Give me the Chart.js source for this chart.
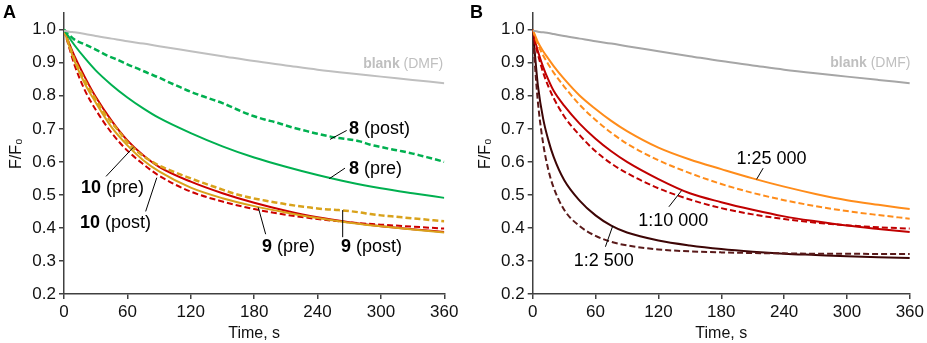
<!DOCTYPE html>
<html>
<head>
<meta charset="utf-8">
<title>F/F0 vs time</title>
<script src="https://cdn.jsdelivr.net/npm/chart.js@4.4.0/dist/chart.umd.min.js"></script>
<style>
  body { margin: 0; background: #fff; }
  #wrap { position: relative; width: 927px; height: 343px; }
  canvas { position: absolute; top: 0; }
</style>
</head>
<body>
<div id="wrap">
  <canvas id="chartA" width="463" height="343" style="left:0"></canvas>
  <canvas id="chartB" width="464" height="343" style="left:463px"></canvas>
</div>
<script>
// ---- data ----

// tick labels
const xTicks = [0, 60, 120, 180, 240, 300, 360];
const yTicks = [0.2, 0.3, 0.4, 0.5, 0.6, 0.7, 0.8, 0.9, 1.0];

// panel A, time in s
const timeA = [0, 5, 10, 20, 30, 45, 60, 75, 90, 120, 150, 180, 210, 240, 270, 300, 330, 360];
const blankA = [0.997, 0.994, 0.992, 0.987, 0.981, 0.973, 0.965, 0.958, 0.950, 0.935, 0.920, 0.905, 0.892, 0.879, 0.868, 0.858, 0.848, 0.838];
const pre8 = [1.0, 0.976, 0.953, 0.913, 0.877, 0.833, 0.795, 0.762, 0.733, 0.687, 0.647, 0.613, 0.585, 0.560, 0.538, 0.520, 0.505, 0.491];
const pre9 = [1.0, 0.950, 0.905, 0.835, 0.780, 0.705, 0.650, 0.605, 0.571, 0.522, 0.490, 0.466, 0.447, 0.430, 0.416, 0.405, 0.395, 0.386];
const pre10 = [1.0, 0.958, 0.920, 0.855, 0.797, 0.725, 0.665, 0.620, 0.585, 0.540, 0.505, 0.476, 0.452, 0.432, 0.417, 0.405, 0.396, 0.388];
const post10 = [1.0, 0.945, 0.893, 0.815, 0.758, 0.688, 0.634, 0.593, 0.558, 0.510, 0.480, 0.457, 0.440, 0.427, 0.417, 0.410, 0.404, 0.398];

// the noisy "post" runs of 8 and 9, one reading every 10 s
const timePost = [0, 10, 20, 30, 40, 50, 60, 70, 80, 90, 100, 110, 120, 130, 140, 150, 160, 170, 180,
  190, 200, 210, 220, 230, 240, 250, 260, 270, 280, 290, 300, 310, 320, 330, 340, 350, 360];
const post8 = [1.0, 0.970, 0.955, 0.940, 0.923, 0.910, 0.895, 0.882, 0.868, 0.855, 0.840, 0.826, 0.812, 0.800, 0.789,
  0.778, 0.764, 0.750, 0.738, 0.728, 0.720, 0.710, 0.701, 0.693, 0.685, 0.678, 0.672, 0.668, 0.662, 0.652, 0.645,
  0.638, 0.632, 0.625, 0.617, 0.609, 0.600];
const post9 = [1.0, 0.910, 0.845, 0.790, 0.740, 0.700, 0.660, 0.630, 0.607, 0.589, 0.575, 0.562, 0.550, 0.538, 0.527,
  0.516, 0.505, 0.496, 0.489, 0.483, 0.477, 0.472, 0.467, 0.463, 0.459, 0.456, 0.454, 0.451, 0.447, 0.442, 0.438,
  0.435, 0.432, 0.429, 0.426, 0.423, 0.420];

// panel B, time in s
const timeB = [0, 2, 5, 10, 15, 20, 30, 45, 60, 75, 90, 120, 150, 180, 210, 240, 270, 300, 330, 360];
const blankB = [0.997, 0.996, 0.994, 0.992, 0.990, 0.987, 0.981, 0.973, 0.965, 0.958, 0.950, 0.935, 0.920, 0.905, 0.892, 0.879, 0.868, 0.858, 0.848, 0.838];
const pre25k = [1.0, 0.985, 0.962, 0.935, 0.912, 0.890, 0.851, 0.800, 0.760, 0.724, 0.693, 0.643, 0.607, 0.578, 0.550, 0.525, 0.503, 0.484, 0.470, 0.457];
const post25k = [1.0, 0.980, 0.955, 0.922, 0.895, 0.870, 0.828, 0.772, 0.727, 0.688, 0.655, 0.605, 0.566, 0.533, 0.506, 0.484, 0.466, 0.451, 0.439, 0.428];
const pre10k = [1.0, 0.970, 0.935, 0.887, 0.848, 0.815, 0.770, 0.715, 0.670, 0.632, 0.600, 0.548, 0.505, 0.478, 0.455, 0.435, 0.420, 0.407, 0.397, 0.388];
const post10k = [1.0, 0.965, 0.925, 0.870, 0.828, 0.793, 0.738, 0.680, 0.632, 0.595, 0.566, 0.520, 0.486, 0.460, 0.441, 0.427, 0.416, 0.408, 0.402, 0.398];
const pre2500 = [1.0, 0.930, 0.830, 0.730, 0.665, 0.615, 0.545, 0.482, 0.438, 0.407, 0.386, 0.362, 0.347, 0.336, 0.328, 0.322, 0.318, 0.314, 0.311, 0.309];
const post2500 = [1.0, 0.900, 0.780, 0.655, 0.575, 0.522, 0.455, 0.405, 0.376, 0.358, 0.347, 0.335, 0.329, 0.326, 0.324, 0.323, 0.322, 0.322, 0.321, 0.321];

const FONT = '"Liberation Sans", Arial, sans-serif';

function pts(times, vals) {
  return times.map((t, i) => ({ x: t, y: vals[i] }));
}

function line(times, vals, color, dashed, width) {
  return {
    data: pts(times, vals),
    borderColor: color,
    borderWidth: width || 2,
    borderDash: dashed ? [6, 3] : [],
    pointRadius: 0,
    fill: false,
    cubicInterpolationMode: 'monotone'
  };
}

// labels, leader lines and the panel letter
const notesPlugin = {
  id: 'notes',
  afterDatasetsDraw(chart, args, opts) {
    const ctx = chart.ctx;
    const xs = chart.scales.x, ys = chart.scales.y;
    ctx.save();
    ctx.fillStyle = '#000';
    ctx.font = 'bold 18px ' + FONT;
    ctx.textBaseline = 'alphabetic';
    ctx.fillText(opts.letter, opts.letterX, 18);

    ctx.strokeStyle = '#000';
    ctx.lineWidth = 1;
    opts.leaders.forEach(l => {
      ctx.beginPath();
      ctx.moveTo(xs.getPixelForValue(l[0]), ys.getPixelForValue(l[1]));
      ctx.lineTo(xs.getPixelForValue(l[2]), ys.getPixelForValue(l[3]));
      ctx.stroke();
    });

    ctx.textBaseline = 'middle';
    opts.notes.forEach(n => {
      const size = n.size || 18;
      const boldFont = 'bold ' + size + 'px ' + FONT;
      const normFont = size + 'px ' + FONT;
      ctx.font = boldFont;
      const w1 = ctx.measureText(n.bold).width;
      ctx.font = normFont;
      const w2 = ctx.measureText(n.rest).width;
      let x = xs.getPixelForValue(n.t);
      if (n.right) x -= w1 + w2;
      const y = ys.getPixelForValue(n.v);
      ctx.fillStyle = n.color || '#000';
      ctx.font = boldFont;
      ctx.fillText(n.bold, x, y);
      ctx.font = normFont;
      ctx.fillText(n.rest, x + w1, y);
    });
    ctx.restore();
  }
};

function makeChart(id, datasets, yWidth, yTitlePad, padRight, notes) {
  return new Chart(document.getElementById(id), {
    type: 'line',
    data: { datasets: datasets },
    plugins: [notesPlugin],
    options: {
      responsive: false,
      animation: false,
      layout: { padding: { top: 2.4, right: padRight, left: 0, bottom: 0 } },
      plugins: {
        legend: { display: false },
        tooltip: { enabled: false },
        notes: notes
      },
      scales: {
        x: {
          type: 'linear',
          min: 0,
          max: 360,
          afterBuildTicks: s => { s.ticks = xTicks.map(v => ({ value: v })); },
          afterFit: s => { s.height = 49; },
          border: { color: '#404040', width: 1.5 },
          grid: { drawOnChartArea: false, tickLength: 5, color: '#404040', lineWidth: 1.5 },
          ticks: { padding: 3, color: '#111', font: { family: FONT, size: 17 }, maxRotation: 0 },
          title: { display: true, text: 'Time, s', color: '#111', font: { family: FONT, size: 16 }, padding: { top: 0, bottom: 0 } }
        },
        y: {
          min: 0.2,
          max: 1.05,
          afterBuildTicks: s => { s.ticks = yTicks.map(v => ({ value: v })); },
          afterFit: s => { s.width = yWidth; },
          border: { color: '#404040', width: 1.5 },
          grid: { drawOnChartArea: false, tickLength: 5, color: '#404040', lineWidth: 1.5 },
          ticks: { padding: 3, color: '#111', font: { family: FONT, size: 17 }, callback: v => v.toFixed(1) },
          title: { display: true, text: 'F/F₀', color: '#111', font: { family: FONT, size: 16 }, padding: { top: yTitlePad, bottom: 0 } }
        }
      }
    }
  });
}

// panel A
makeChart('chartA', [
  line(timeA, blankA, '#bfbfbf'),
  line(timePost, post8, '#00b050', true, 2.5),
  line(timeA, pre8, '#00b050'),
  line(timePost, post9, '#d9a21b', true, 2.5),
  line(timeA, pre9, '#d9a21b'),
  line(timeA, post10, '#cc0000', true),
  line(timeA, pre10, '#cc0000')
], 64, 7.4, 18.7, {
  letter: 'A', letterX: 3,
  leaders: [
    [251.8, 0.668, 267.6, 0.695],
    [251.1, 0.549, 266.0, 0.581],
    [65.6, 0.644, 39.8, 0.556],
    [87.8, 0.552, 77.3, 0.450],
    [183.9, 0.462, 190.9, 0.381],
    [263.8, 0.454, 263.8, 0.372]
  ],
  notes: [
    { bold: 'blank', rest: ' (DMF)', t: 359, v: 0.8965, size: 14, color: '#bfbfbf', right: true },
    { bold: '8', rest: ' (post)', t: 269.8, v: 0.698 },
    { bold: '8', rest: ' (pre)', t: 269.8, v: 0.579 },
    { bold: '10', rest: ' (pre)', t: 16.1, v: 0.520 },
    { bold: '10', rest: ' (post)', t: 15.1, v: 0.415 },
    { bold: '9', rest: ' (pre)', t: 187.4, v: 0.341 },
    { bold: '9', rest: ' (post)', t: 262.2, v: 0.341 }
  ]
});

// panel B
makeChart('chartB', [
  line(timeB, blankB, '#a6a6a6'),
  line(timeB, post25k, '#ff8c1a', true),
  line(timeB, pre25k, '#ff8c1a'),
  line(timeB, post10k, '#c00000', true),
  line(timeB, pre10k, '#c00000'),
  line(timeB, post2500, '#5a1a1a', true),
  line(timeB, pre2500, '#3d0505')
], 69.7, 13.4, 14.3, {
  letter: 'B', letterX: 7,
  leaders: [
    [213.7, 0.547, 220.0, 0.581],
    [142.1, 0.513, 130.0, 0.464],
    [76.4, 0.406, 69.4, 0.343]
  ],
  notes: [
    { bold: 'blank', rest: ' (DMF)', t: 360.5, v: 0.899, size: 14, color: '#bfbfbf', right: true },
    { bold: '', rest: '1:25 000', t: 194.5, v: 0.608 },
    { bold: '', rest: '1:10 000', t: 100.7, v: 0.420 },
    { bold: '', rest: '1:2 500', t: 39.1, v: 0.301 }
  ]
});
</script>
</body>
</html>
